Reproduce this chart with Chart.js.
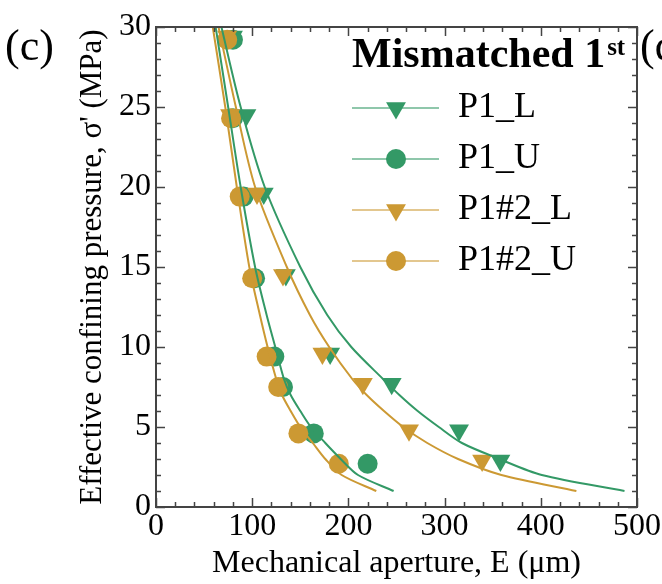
<!DOCTYPE html>
<html>
<head>
<meta charset="utf-8">
<script src="https://cdn.jsdelivr.net/npm/chart.js@4.4.0/dist/chart.umd.min.js"></script>
<style>
    body { margin: 0; background: #fff; }
    #wrap { width: 662px; height: 584px; }
</style>
</head>
<body>
<div id="wrap"><canvas id="chart" width="662" height="584"></canvas></div>
<script>
// measured points (sigma in MPa, aperture in um)
const sigmaU = [29.2, 24.3, 19.4, 14.3, 9.4, 7.5, 4.6, 2.7];
const sigmaL = [29.4, 24.5, 19.6, 14.5, 9.6, 7.7, 4.8, 2.9];
const apertureP1L = [80, 94, 112, 135, 181, 245, 315, 358];
const apertureP1U = [80, 80, 91, 103, 123, 132, 164, 220];
const apertureP12L = [74, 77, 105, 132, 173, 215, 263, 339];
const apertureP12U = [74, 78, 87, 100, 115, 127, 148, 190];

// fitted curves
const sigmaFit = [1, 2, 3, 4, 5, 6, 7, 8, 10, 12, 15, 20, 25, 30];
const fitP1L = [487, 401, 357, 318, 294, 272, 253, 236, 203, 178, 150, 113, 88, 68];
const fitP1U = [247, 210, 192, 176, 161, 150, 140, 133, 124, 115, 103, 88, 75, 62];
const fitP12L = [437, 359, 314, 282, 257, 237, 219, 204, 180, 160, 136, 103, 83, 65];
const fitP12U = [229, 193, 176, 163, 150, 140, 131, 125, 116, 108, 97, 84, 72, 59];

const seriesNames = ['P1_L', 'P1_U', 'P1#2_L', 'P1#2_U'];
const xTicks = [0, 100, 200, 300, 400, 500];
const yTicks = [0, 5, 10, 15, 20, 25, 30];

const GREEN = '#339966';
const ORANGE = '#cc9933';
const FONT = '"Liberation Serif", "Times New Roman", serif';

function pts(xs, ys) {
    return xs.map((v, i) => ({ x: v, y: ys[i] }));
}

function markerSet(label, data, color, style, order) {
    return {
        label: label,
        data: data,
        showLine: false,
        pointStyle: style === 'tri' ? 'triangle' : 'circle',
        rotation: style === 'tri' ? 180 : 0,
        pointRadius: style === 'tri' ? 11.5 : 10,
        pointBackgroundColor: color,
        pointBorderWidth: 0,
        borderColor: color,
        order: order
    };
}

function curveSet(data, color) {
    return {
        label: '',
        data: data,
        showLine: true,
        borderColor: color,
        borderWidth: 2,
        pointRadius: 0,
        tension: 0.3,
        fill: false,
        order: 0
    };
}

const markers = [
    markerSet(seriesNames[0], pts(apertureP1L, sigmaL), GREEN, 'tri', 4),
    markerSet(seriesNames[1], pts(apertureP1U, sigmaU), GREEN, 'circle', 3),
    markerSet(seriesNames[2], pts(apertureP12L, sigmaL), ORANGE, 'tri', 2),
    markerSet(seriesNames[3], pts(apertureP12U, sigmaU), ORANGE, 'circle', 1)
];
const curves = [
    curveSet(pts(fitP1L, sigmaFit), GREEN),
    curveSet(pts(fitP1U, sigmaFit), GREEN),
    curveSet(pts(fitP12L, sigmaFit), ORANGE),
    curveSet(pts(fitP12U, sigmaFit), ORANGE)
];

// inward ticks on all four sides + frame
const frameAndTicks = {
    id: 'frameAndTicks',
    afterDatasetsDraw(chart) {
        const { ctx, chartArea: a, scales: { x, y } } = chart;
        ctx.save();
        ctx.strokeStyle = '#444';
        ctx.lineWidth = 1.5;
        ctx.beginPath();
        for (let v = 0; v <= 500; v += 20) {
            const px = Math.round(x.getPixelForValue(v)) + 0.5;
            const len = v % 100 === 0 ? 9 : 5;
            ctx.moveTo(px, a.bottom); ctx.lineTo(px, a.bottom - len);
            ctx.moveTo(px, a.top); ctx.lineTo(px, a.top + len);
        }
        for (let v = 0; v <= 30; v += 1) {
            const py = Math.round(y.getPixelForValue(v)) + 0.5;
            const len = v % 5 === 0 ? 9 : 5;
            ctx.moveTo(a.left, py); ctx.lineTo(a.left + len, py);
            ctx.moveTo(a.right, py); ctx.lineTo(a.right - len, py);
        }
        ctx.stroke();
        ctx.lineWidth = 2;
        ctx.strokeRect(a.left, a.top, a.right - a.left, a.bottom - a.top);
        ctx.restore();
    }
};

// legend box, panel labels
const legendBox = {
    id: 'legendBox',
    afterDraw(chart) {
        const ctx = chart.ctx;
        ctx.save();
        ctx.fillStyle = '#000';
        ctx.textBaseline = 'alphabetic';
        ctx.font = '44px ' + FONT;
        ctx.fillText('(c)', 5, 60);
        ctx.fillText('(d)', 640, 60);

        ctx.font = 'bold 42px ' + FONT;
        ctx.fillText('Mismatched 1', 352, 67);
        const w = ctx.measureText('Mismatched 1').width;
        ctx.font = 'bold 25px ' + FONT;
        ctx.fillText('st', 352 + w + 2, 55);

        markers.forEach((ds, i) => {
            const yy = 108 + i * 51;
            const color = ds.pointBackgroundColor;
            ctx.globalAlpha = 0.55;
            ctx.strokeStyle = color;
            ctx.lineWidth = 2;
            ctx.beginPath();
            ctx.moveTo(352, yy);
            ctx.lineTo(439, yy);
            ctx.stroke();
            ctx.globalAlpha = 1;
            ctx.fillStyle = color;
            Chart.helpers.drawPoint(ctx, {
                pointStyle: ds.pointStyle,
                rotation: ds.rotation,
                radius: ds.pointRadius,
                borderWidth: 0
            }, 396, yy);
            ctx.fillStyle = '#000';
            ctx.font = '36px ' + FONT;
            ctx.textBaseline = 'middle';
            ctx.fillText(ds.label, 458, yy);
        });
        ctx.restore();
    }
};

function fixBox(size, isX) {
    return function (scale) {
        if (isX) scale.height = size; else scale.width = size;
        scale.paddingTop = 0;
        scale.paddingBottom = 0;
        scale.paddingLeft = 0;
        scale.paddingRight = 0;
    };
}

const ctx = document.getElementById('chart').getContext('2d');
const chart = new Chart(ctx, {
    type: 'scatter',
    data: { datasets: curves.concat(markers) },
    options: {
        responsive: false,
        animation: false,
        layout: { padding: { top: 27, right: 25, left: 0, bottom: 0 } },
        plugins: {
            legend: { display: false },
            tooltip: { enabled: false }
        },
        scales: {
            x: {
                type: 'linear',
                min: 0,
                max: 500,
                afterBuildTicks: s => { s.ticks = xTicks.map(v => ({ value: v })); },
                afterFit: fixBox(77, true),
                grid: { display: false, drawTicks: false },
                border: { display: false },
                ticks: {
                    color: '#000',
                    padding: 0,
                    maxRotation: 0,
                    autoSkip: false,
                    font: { family: FONT, size: 32 }
                },
                title: {
                    display: true,
                    text: 'Mechanical aperture, E (\u03bcm)',
                    color: '#000',
                    font: { family: FONT, size: 32 },
                    padding: { top: 0, bottom: 1 }
                }
            },
            y: {
                type: 'linear',
                min: 0,
                max: 30,
                afterBuildTicks: s => { s.ticks = yTicks.map(v => ({ value: v })); },
                afterFit: fixBox(156, false),
                grid: { display: false, drawTicks: false },
                border: { display: false },
                ticks: {
                    color: '#000',
                    padding: 5,
                    autoSkip: false,
                    font: { family: FONT, size: 32 }
                },
                title: {
                    display: true,
                    text: "Effective confining pressure, \u03c3' (MPa)",
                    color: '#000',
                    font: { family: FONT, size: 31 },
                    padding: { top: 74, bottom: 0 }
                }
            }
        }
    },
    plugins: [frameAndTicks, legendBox]
});
</script>
</body>
</html>
